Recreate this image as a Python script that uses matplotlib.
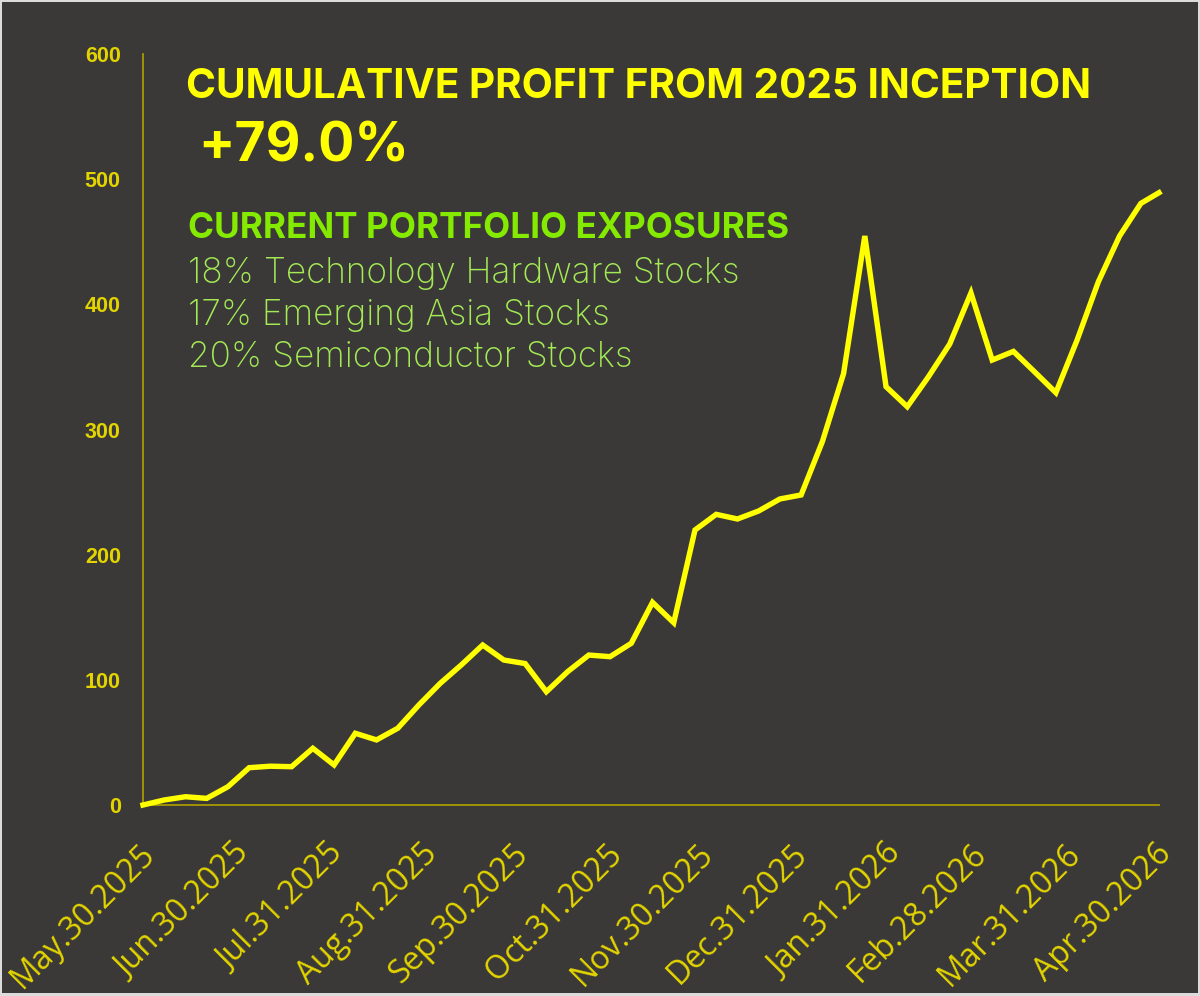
import matplotlib
matplotlib.use("Agg")
import matplotlib.pyplot as plt
import matplotlib.dates as mdates
from matplotlib.patches import Rectangle
from matplotlib.transforms import ScaledTranslation
import datetime as dt

# ---- data ----
start_date = dt.date(2025, 5, 30)
n_weekly = 48
dates = [start_date + dt.timedelta(days=7 * i) for i in range(n_weekly)] + [dt.date(2026, 4, 30)]
values = [0, 4, 6.6, 5.3, 14.6, 29.8, 31, 30.6, 45.3, 32, 57.3, 52, 61.3, 80, 97.2,
          112, 127.8, 115.8, 113, 90.5, 106.5, 119.8, 118.5, 129.2, 161.9, 145.6,
          219.7, 232.2, 228.5, 234.9, 244.5, 247.7, 290.3, 344.7, 454.6, 334.2,
          318.2, 342.2, 368.3, 409.1, 355.5, 362.4, 346, 329.4, 371.5, 418, 454.6,
          480.6, 489.2]
tick_dates = [dt.date(2025, 5, 30), dt.date(2025, 6, 30), dt.date(2025, 7, 31),
              dt.date(2025, 8, 31), dt.date(2025, 9, 30), dt.date(2025, 10, 31),
              dt.date(2025, 11, 30), dt.date(2025, 12, 31), dt.date(2026, 1, 31),
              dt.date(2026, 2, 28), dt.date(2026, 3, 31), dt.date(2026, 4, 30)]
tick_labels = ["May.30.2025", "Jun.30.2025", "Jul.31.2025", "Aug.31.2025",
               "Sep.30.2025", "Oct.31.2025", "Nov.30.2025", "Dec.31.2025",
               "Jan.31.2026", "Feb.28.2026", "Mar.31.2026", "Apr.30.2026"]
y_ticks = [0, 100, 200, 300, 400, 500, 600]

title_text = "CUMULATIVE PROFIT FROM 2025 INCEPTION"
profit_text = "+79.0%"
exposure_title = "CURRENT PORTFOLIO EXPOSURES"
exposures = ["18% Technology Hardware Stocks",
             "17% Emerging Asia Stocks",
             "20% Semiconductor Stocks"]

# ---- style ----
BG = "#3a3937"
BORDER = "#dcdcdc"
LINE = "#ffff00"
TICK = "#e3d400"
SPINE = "#a89a00"
GREEN = "#84ea00"
LGREEN = "#a4ea55"

W, H = 1200, 996
fig = plt.figure(figsize=(W / 100, H / 100), dpi=100)
fig.patch.set_facecolor(BORDER)
fig.patches.append(Rectangle((2 / W, 3 / H), 1 - 4 / W, 1 - 5 / H, transform=fig.transFigure,
                             facecolor=BG, edgecolor="none", zorder=-10))

ax = fig.add_axes([143 / W, 1 - 805 / H, (1159 - 143) / W, (805 - 54) / H])
ax.set_zorder(1)
ax.set_facecolor("none")
xd = mdates.date2num(dates)
ax.plot(xd, values, color=LINE, lw=3.9, solid_joinstyle="miter", zorder=3, clip_on=False)
ax.set_xlim(mdates.date2num(dates[0]), mdates.date2num(dates[-1]))
ax.set_ylim(0, 600)

for s in ["top", "right"]:
    ax.spines[s].set_visible(False)
for s in ["left", "bottom"]:
    ax.spines[s].set_color(SPINE)
    ax.spines[s].set_linewidth(1.3)

ax.set_yticks(y_ticks)
ax.set_yticklabels([str(v) for v in y_ticks], family="Liberation Sans", fontweight="bold",
                   fontsize=15.5, color=TICK)
ax.tick_params(axis="y", length=0, pad=16)

ax.set_xticks(mdates.date2num(tick_dates))
ax.set_xticklabels(tick_labels, family="Open Sans", fontsize=23, color=TICK,
                   rotation=45, ha="right", va="top", rotation_mode="anchor")
ax.tick_params(axis="x", length=0, pad=23.5)
off = ScaledTranslation(-4 / 100, 0, fig.dpi_scale_trans)
for lab in ax.get_xticklabels():
    lab.set_transform(lab.get_transform() + off)

fig.text(186 / W, 1 - 98 / H, title_text, family="Inter", fontweight="bold",
         fontsize=29.2, color=LINE, va="baseline", ha="left", zorder=5)
fig.text(198 / W, 1 - 161 / H, profit_text, family="Inter", fontweight="bold",
         fontsize=38.6, color=LINE, va="baseline", ha="left", zorder=5)
fig.text(188 / W, 1 - 238 / H, exposure_title, family="Inter", fontweight="bold",
         fontsize=25.3, color=GREEN, va="baseline", ha="left", zorder=5)
for i, t in enumerate(exposures):
    fig.text(188 / W, 1 - (283 + 42 * i) / H, t, family="Inter", fontweight="light",
             fontsize=25.3, color=LGREEN, va="baseline", ha="left", zorder=5)

fig.savefig("out.png", dpi=100, facecolor=fig.get_facecolor())
